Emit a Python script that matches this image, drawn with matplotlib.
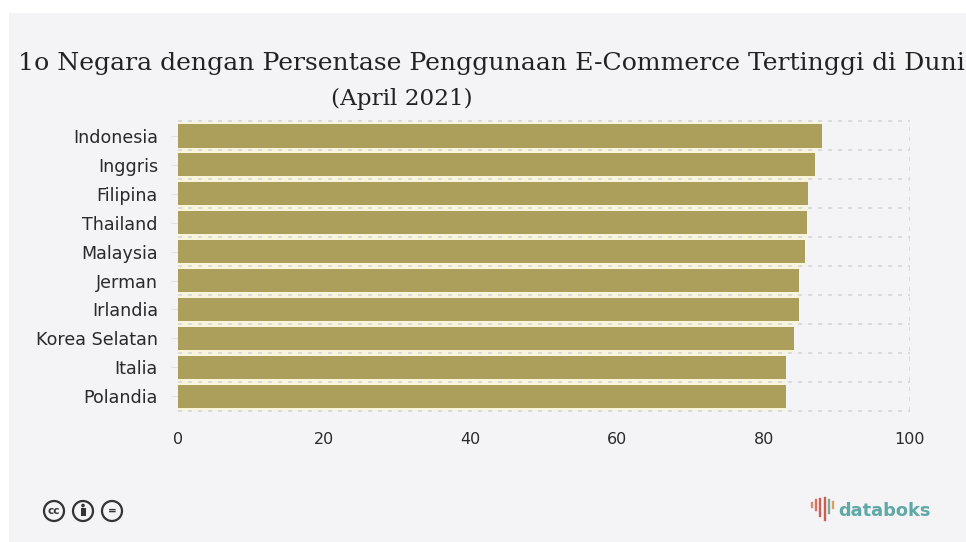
import matplotlib
matplotlib.use("Agg")
import matplotlib.pyplot as plt
from matplotlib.patches import Rectangle, Circle

# === Data ===
countries = ["Indonesia", "Inggris", "Filipina", "Thailand", "Malaysia",
             "Jerman", "Irlandia", "Korea Selatan", "Italia", "Polandia"]
values = [88, 87, 86.1, 85.9, 85.7, 84.9, 84.9, 84.1, 83, 83]
x_ticks = [0, 20, 40, 60, 80, 100]
title_line1 = "1o Negara dengan Persentase Penggunaan E-Commerce Tertinggi di Dunia"
title_line2 = "(April 2021)"

W, H = 966, 542
BG = "#f4f4f6"
BAR = "#ac9e5b"
CREAM = "#f9f5dc"
GRID = "#d6d6d6"

def fx(px):
    return px / W

def fy(py):
    return 1 - py / H

fig = plt.figure(figsize=(W / 100, H / 100), dpi=100, facecolor="white")

# === Panel behind everything (white strip left and top) ===
fig.patches.append(Rectangle((fx(9), 0), 1 - fx(9), fy(13), transform=fig.transFigure,
                             facecolor=BG, edgecolor="none", zorder=-5))

ax = fig.add_axes([fx(178), fy(410.7), fx(910) - fx(178), (410.7 - 121.5) / H])
ax.set_facecolor("none")

# === Bars, cream halo from the source picture underneath ===
y_pos = list(range(len(countries)))
ax.barh(y_pos, values, height=1.0, color=CREAM, zorder=1)
ax.barh(y_pos, values, height=0.8, color=BAR, zorder=3)

ax.set_xlim(0, 100)
ax.set_ylim(len(countries) - 0.5, -0.5)
ax.set_xticks(x_ticks)
ax.set_yticks(y_pos)
ax.set_yticklabels(countries)

# === Dotted grid on the band edges ===
for edge in [i - 0.5 for i in range(len(countries) + 1)]:
    ax.axhline(edge, color=GRID, lw=1.2, ls=(0, (2.5, 3.5)), zorder=2, clip_on=False)
ax.axvline(100, color=GRID, lw=1.2, ls=(0, (2.5, 3.5)), zorder=2)

for spine in ax.spines.values():
    spine.set_visible(False)
ax.tick_params(axis="y", length=5, color="#e2e2e2", pad=9.4, labelsize=12.6, labelcolor="#2a2a2a")
ax.tick_params(axis="x", length=0, pad=15, labelsize=11.5, labelcolor="#2a2a2a")

# === Title, runs off the right edge as in the source ===
fig.text(fx(18), fy(70), title_line1, family="DejaVu Serif", fontsize=18.1,
         color="#222222", ha="left", va="baseline")
fig.text(fx(401.5), fy(105), title_line2, family="DejaVu Serif", fontsize=16.7,
         color="#222222", ha="center", va="baseline")

# === Licence icons ===
for cx, sym in zip([54, 83, 112], ["cc", "", "="]):
    fig.patches.append(Circle((cx, H - 511), 10, transform=None, facecolor="none",
                              edgecolor="#333333", lw=1.6))
    if sym:
        fig.text(fx(cx), fy(511), sym, fontsize=7.5, fontweight="bold", color="#333333",
                 ha="center", va="center")
fig.patches.append(Circle((83, H - 505.5), 1.8, transform=None, facecolor="#333333"))
fig.patches.append(Rectangle((80.5, H - 516), 5, 8.5, transform=None, facecolor="#333333"))

# === databoks logo ===
logo_bars = [(812, 503, 507, "#d98a6a"), (816, 500, 510, "#d9735f"), (820, 499, 516, "#c9605a"),
             (825, 498, 520, "#c9604f"), (829, 500, 513, "#7fa79a"), (833, 502, 508, "#d9a15f")]
for bx, y0, y1, col in logo_bars:
    fig.add_artist(plt.Line2D([fx(bx), fx(bx)], [fy(y0), fy(y1)], color=col, lw=1.7,
                              transform=fig.transFigure))
fig.text(fx(838), fy(516), "databoks", fontsize=12.8, fontweight="bold", color="#5fa8a5",
         ha="left", va="baseline")

fig.savefig("out.png", dpi=100, facecolor=fig.get_facecolor())
